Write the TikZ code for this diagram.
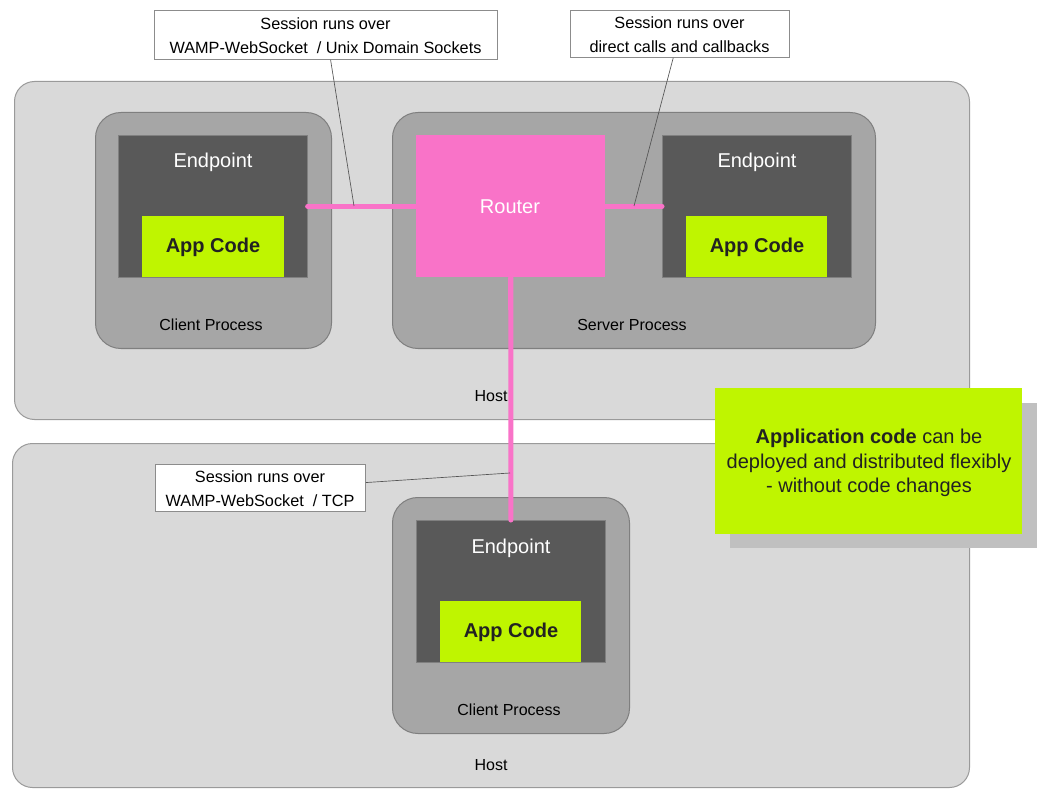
\documentclass[tikz,border=0pt]{standalone}
\usepackage{fontspec}
\setmainfont{Liberation Sans}
\begin{document}
\begin{tikzpicture}[x=0.75pt,y=-0.75pt,
  box/.style={inner sep=0pt,anchor=north west},
  host/.style={box,draw=hostborder,fill=hostfill,rounded corners=15pt,line width=0.75pt},
  proc/.style={box,draw=procborder,fill=procfill,rounded corners=19pt,line width=0.75pt},
  endpt/.style={box,draw=epborder,fill=epfill,line width=0.5pt},
  router/.style={box,fill=routerfill},
  appcode/.style={box,fill=lime},
  callout/.style={box,draw=calloutborder,fill=white,line width=0.6pt},
  wlbl/.style={text=white,font=\fontsize{15}{18}\selectfont},
  aclbl/.style={text=darktext,font=\fontsize{15}{18}\selectfont\bfseries},
  plbl/.style={text=black,font=\fontsize{12}{14}\selectfont},
  clbl/.style={text=black,align=center,font=\fontsize{12.2}{18}\selectfont},
  pinkline/.style={draw=routerfill,line width=3.8pt,line cap=round},
  leader/.style={draw=leadercol,line width=0.5pt}
]
\definecolor{hostfill}{HTML}{D9D9D9}
\definecolor{hostborder}{HTML}{9A9A9A}
\definecolor{procfill}{HTML}{A6A6A6}
\definecolor{procborder}{HTML}{7F7F7F}
\definecolor{epfill}{HTML}{595959}
\definecolor{epborder}{HTML}{808080}
\definecolor{routerfill}{HTML}{F973C8}
\definecolor{lime}{HTML}{BFF500}
\definecolor{darktext}{HTML}{222222}
\definecolor{calloutborder}{HTML}{8C8C8C}
\definecolor{leadercol}{HTML}{555555}
\definecolor{shadowcol}{HTML}{C0C0C0}
\useasboundingbox (0,0) rectangle (1045,798);
\fill[white] (0,0) rectangle (1045,798);

% hosts
\node[host,minimum width=955*0.75pt,minimum height=338*0.75pt] (host1) at (14,81) {};
\node[host,minimum width=957*0.75pt,minimum height=344*0.75pt] (host2) at (12,443) {};
\node[plbl] (host1l) at (491,396) {Host};
\node[plbl] (host2l) at (491,765) {Host};

% processes
\node[proc,minimum width=236*0.75pt,minimum height=236*0.75pt] (cp1) at (95,112) {};
\node[proc,minimum width=483*0.75pt,minimum height=236*0.75pt] (sp) at (392,112) {};
\node[proc,minimum width=237*0.75pt,minimum height=236*0.75pt] (cp2) at (392,497) {};
\node[plbl] (cp1l) at (211,325) {Client Process};
\node[plbl] (spl) at (632,325) {Server Process};
\node[plbl] (cp2l) at (509,710) {Client Process};

% endpoints
\node[endpt,minimum width=189*0.75pt,minimum height=142*0.75pt] (ep1) at (118,135) {};
\node[endpt,minimum width=189*0.75pt,minimum height=142*0.75pt] (ep2) at (662,135) {};
\node[endpt,minimum width=189*0.75pt,minimum height=142*0.75pt] (ep3) at (416,520) {};
\node[router,minimum width=189*0.75pt,minimum height=142*0.75pt] (router) at (416,135) {};
\node[wlbl] (ep1l) at (213,162) {Endpoint};
\node[wlbl] (ep2l) at (757,162) {Endpoint};
\node[wlbl] (ep3l) at (511,548) {Endpoint};
\node[wlbl] (routerl) at (510,207) {Router};

% app code
\node[appcode,minimum width=142*0.75pt,minimum height=61*0.75pt] (ac1) at (142,216) {};
\node[appcode,minimum width=141*0.75pt,minimum height=61*0.75pt] (ac2) at (686,216) {};
\node[appcode,minimum width=141*0.75pt,minimum height=61*0.75pt] (ac3) at (440,601) {};
\node[aclbl] (ac1l) at (213,247) {App Code};
\node[aclbl] (ac2l) at (757,247) {App Code};
\node[aclbl] (ac3l) at (511,632) {App Code};

% connectors
\draw[pinkline] (ep1.east |- router.west) -- (router.west);
\draw[pinkline] (router.east) -- (ep2.west |- router.east);
\draw[pinkline] (router.south) -- (ep3.north);

% callouts
\node[callout,minimum width=343*0.75pt,minimum height=49*0.75pt] (c1) at (154,10) {};
\node[clbl] (c1l) at (325.5,35.5) {Session runs over\\WAMP-WebSocket~ / Unix Domain Sockets};
\node[callout,minimum width=219*0.75pt,minimum height=47*0.75pt] (c2) at (570,10) {};
\node[clbl] (c2l) at (679.5,34.5) {Session runs over\\direct calls and callbacks};
\node[callout,minimum width=210*0.75pt,minimum height=47*0.75pt] (c3) at (155,464) {};
\node[clbl] (c3l) at (260,488.5) {Session runs over\\WAMP-WebSocket~ / TCP};

\coordinate (t1) at (354,206);
\coordinate (t2) at (634,206);
\coordinate (t3) at (510,473);
\draw[leader] ([xshift=3.5pt]c1.south) -- (t1);
\draw[leader] ([xshift=-5pt]c2.south) -- (t2);
\draw[leader] ([yshift=4pt]c3.east) -- (t3);

% note
\fill[shadowcol] (730,403) rectangle (1037,548);
\node[box,fill=lime,minimum width=307*0.75pt,minimum height=146*0.75pt] (note) at (715,388) {};
\node[text=darktext,align=center,font=\fontsize{15}{18.5}\selectfont] (notel) at (869,463)
  {\textbf{Application code} can be\\deployed and distributed flexibly\\- without code changes};
\end{tikzpicture}
\end{document}
